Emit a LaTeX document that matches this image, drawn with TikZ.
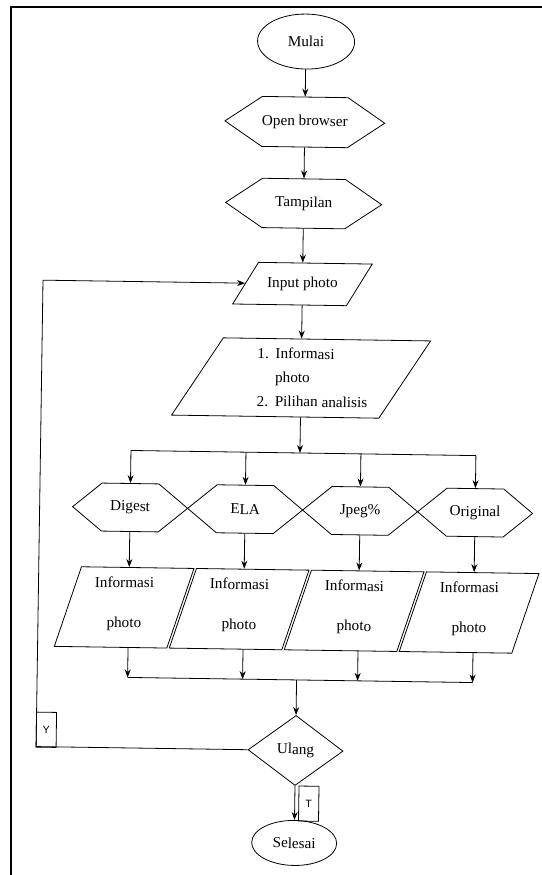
\documentclass[tikz,border=0pt]{standalone}
\usepackage{fontspec}
\setmainfont{Liberation Serif}
\setsansfont{Liberation Sans}
\usepackage{tikz}
\usetikzlibrary{shapes.geometric,shapes.symbols,arrows.meta}

\begin{document}
\begin{tikzpicture}[x=0.75pt,y=-0.75pt,line width=0.6pt,
    >={Stealth[length=6pt,width=4.5pt]},
    every node/.style={font=\fontsize{11.4pt}{13.7pt}\selectfont},
    terminal/.style={draw, ellipse, inner sep=0pt},
    display/.style={draw, signal, signal to=west and east, inner sep=0pt},
    iobox/.style={draw, trapezium, trapezium stretches body, inner xsep=0pt},
    decision/.style={draw, diamond, inner sep=0pt},
    flag/.style={draw, rectangle, inner sep=0pt, minimum width=15pt, minimum height=26.25pt,
      font=\sffamily\fontsize{8pt}{9pt}\selectfont}]
      \useasboundingbox (0,0) rectangle (542,875);

      % Draw the page frame
      \draw[line width=1.6pt] (11,875) -- (11,7) -- (542,7);

      \begin{scope}[rotate around={-0.85:(300,450)}, transform shape]
      % Define the main column
      \def\ColX{300}
      \coordinate (branch) at (\ColX,453);
      \coordinate (collect) at (\ColX,680);
      \coordinate (loop) at (40.5,751);

      % Draw the main column
      \node[terminal, minimum width=72.75pt, minimum height=41.25pt] (mulai) at (\ColX,41.5) {Mulai};
      \node[display, minimum width=117pt, minimum height=37.5pt, signal pointer angle=68] (browser) at (\ColX,122) {Open browser};
      \node[display, minimum width=117pt, minimum height=37pt, signal pointer angle=68] (tampil) at (\ColX,203.5) {Tampilan};
      \node[iobox, minimum width=104.25pt, text height=7.8pt, text depth=2.5pt, inner ysep=10.6pt,
        trapezium left angle=59, trapezium right angle=121] (input) at (\ColX,284) {Input photo};
      \node[iobox, minimum width=193.5pt, inner ysep=2.25pt, trapezium left angle=57, trapezium right angle=123,
        font=\fontsize{11.4pt}{18pt}\selectfont] (pilih) at (\ColX,378)
        {\begin{tabular}{@{\hspace{17pt}}l@{\hspace{5pt}}l@{}}1. & Informasi\\ & photo\\ 2. & Pilihan analisis\end{tabular}};

      % Draw the four analyses
      \foreach \name/\label/\x in {digest/Digest/131, ela/ELA/246, jpeg/Jpeg\%/361, original/Original/476} {
        \node[display, minimum width=86.25pt, minimum height=36pt, signal pointer angle=79] (\name) at (\x,510) {\label};
        \node[iobox, minimum width=103.9pt, text height=37.8pt, text depth=7.7pt, inner ysep=7.25pt,
          trapezium left angle=72, trapezium right angle=108,
          align=center, font=\fontsize{11.4pt}{30pt}\selectfont] (info\name) at (\x-4.5,610) {Informasi\\photo};
      }

      \node[decision, minimum width=71.25pt, minimum height=52.5pt] (ulang) at (\ColX,750.5) {Ulang};
      \node[terminal, minimum width=63.75pt, minimum height=33.75pt] (selesai) at (\ColX,843) {Selesai};

      % Draw the answer flags
      \node[flag] (yes) at (50.5,733.5) {Y};
      \node[flag] (no) at (314,803.5) {T};

      % Draw the arrows
      \draw[->] (mulai) -- (browser);
      \draw[->] (browser) -- (tampil);
      \draw[->] (tampil.south) -- (tampil.south |- input.north);
      \draw[->] (input.center |- input.south) -- (input.center |- pilih.north);
      \draw[->] (pilih.center |- pilih.south) -- (branch);
      \draw (digest |- branch) -- (original |- branch);
      \draw (digest |- collect) -- (original |- collect);
      \foreach \name in {digest, ela, jpeg, original} {
        \draw[->] (\name |- branch) -- (\name.north);
        \draw[->] (\name.south) -- (\name.south |- info\name.north);
        \draw[->] (\name |- info\name.south) -- (\name |- collect);
      }
      \draw[->] (collect) -- (ulang.north);
      \draw[->] (ulang.west) -- (ulang.west -| loop) |- (input.west);
      \draw[->] (ulang.south) -- (selesai.north);
      \end{scope}
    \end{tikzpicture}
\end{document}
